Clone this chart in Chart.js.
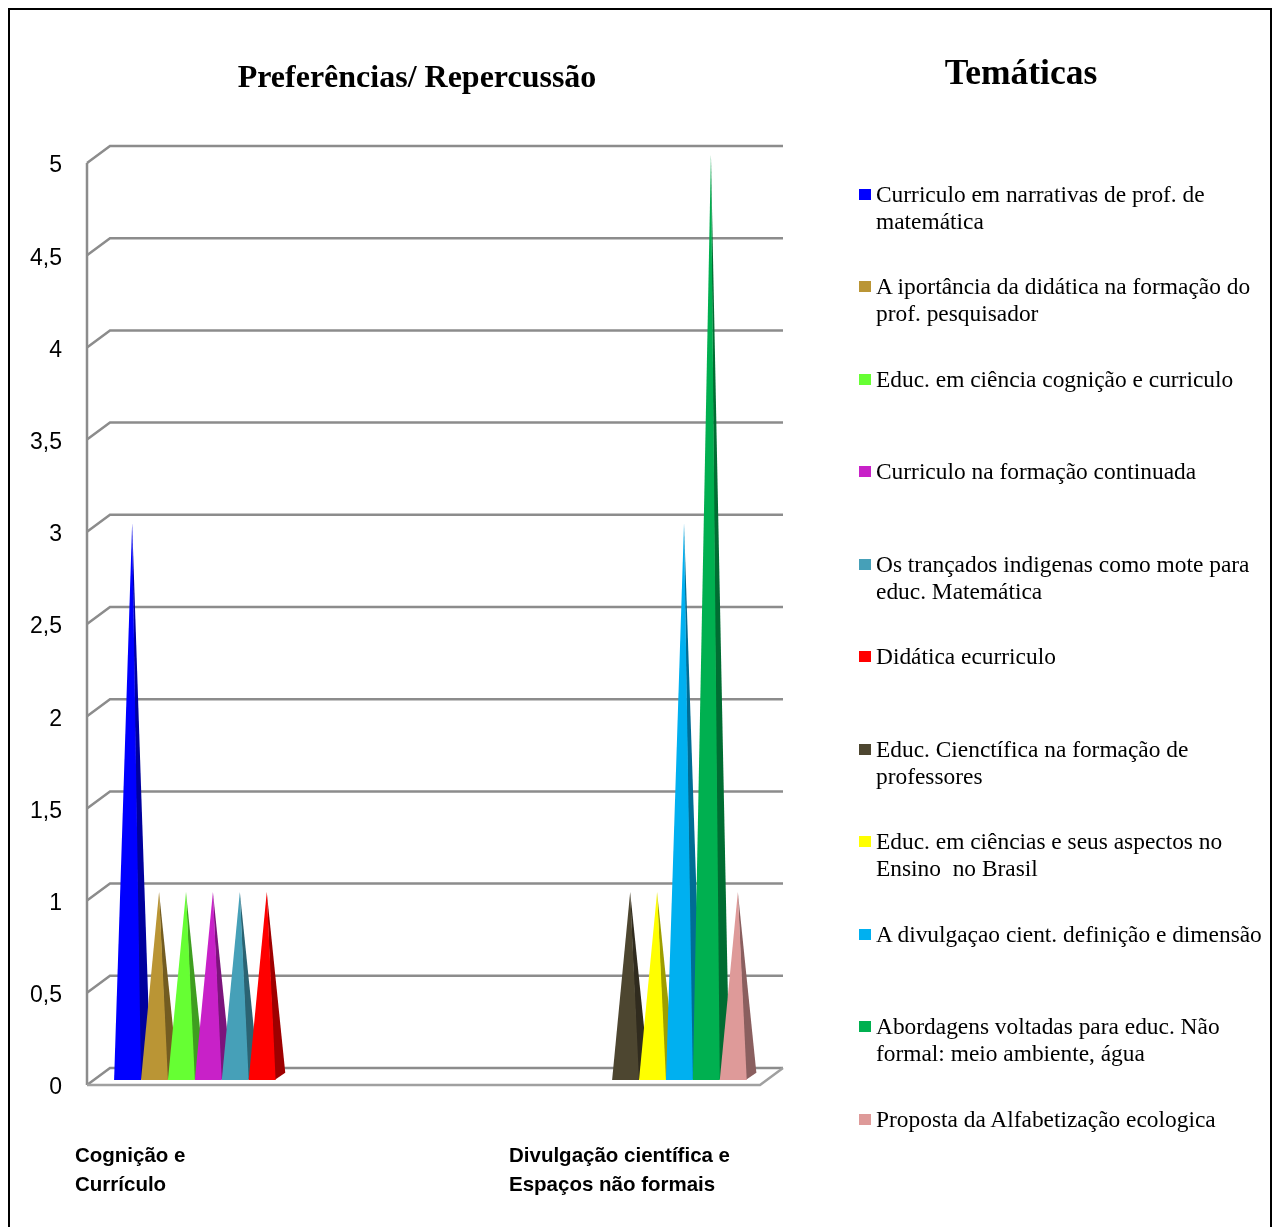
<!DOCTYPE html>
<html lang="pt">
<head>
<meta charset="utf-8">
<title>Preferências/ Repercussão</title>
<script src="https://cdn.jsdelivr.net/npm/chart.js@4.4.1/dist/chart.umd.min.js"></script>
<style>
  html, body { margin: 0; padding: 0; background: #fff; }
  body { width: 1278px; height: 1227px; position: relative; overflow: hidden; }
  #frame { position: absolute; left: 8px; top: 8px; width: 1264px; height: 1240px; border: 2px solid #000; box-sizing: border-box; }
  #chart { position: absolute; left: 0; top: 0; }
  .title { position: absolute; font-family: "Liberation Serif", "Times New Roman", serif; font-weight: bold; color: #000; white-space: nowrap; transform: translate(-50%, -50%); }
  #t1 { left: 417px; top: 76px; font-size: 32px; }
  #t2 { left: 1021px; top: 72px; font-size: 35.5px; }
  #legend { position: absolute; left: 858px; top: 0; width: 415px; }
  .item { position: absolute; left: 0; width: 415px; font-family: "Liberation Serif", "Times New Roman", serif; font-size: 23.4px; line-height: 27px; color: #000; }
  .item .box { position: absolute; left: 1px; top: 8px; width: 12px; height: 11px; }
  .item .txt { position: absolute; left: 18px; top: 0; width: 396px; white-space: pre-wrap; }
</style>
</head>
<body>
<div id="frame"></div>
<canvas id="chart" width="1278" height="1227"></canvas>
<div class="title" id="t1">Preferências/ Repercussão</div>
<div class="title" id="t2">Temáticas</div>
<div id="legend"></div>
<script>
// ---- data ----
const categories = [["Cognição e", "Currículo"], ["Divulgação científica e", "Espaços não formais"]];
const seriesNames = [
  "Curriculo em narrativas de prof. de matemática",
  "A iportância da didática na formação do prof. pesquisador",
  "Educ. em ciência cognição e curriculo",
  "Curriculo na formação continuada",
  "Os trançados indigenas como mote para educ. Matemática",
  "Didática ecurriculo",
  "Educ. Cienctífica na formação de professores",
  "Educ. em ciências e seus aspectos no Ensino  no Brasil",
  "A divulgaçao cient. definição e dimensão",
  "Abordagens voltadas para educ. Não formal: meio ambiente, água",
  "Proposta da Alfabetização ecologica"
];
const cognicaoValues   = [3, 1, 1, 1, 1, 1, 0, 0, 0, 0, 0];
const divulgacaoValues = [0, 0, 0, 0, 0, 0, 1, 1, 3, 5, 1];
const seriesColors = ["#0000FF", "#BA9535", "#66FF33", "#C821C8", "#46A0B8", "#FF0000",
                      "#4D4630", "#FFFF00", "#00B0F0", "#00B050", "#DE9A99"];
const yTicks = [0, 0.5, 1, 1.5, 2, 2.5, 3, 3.5, 4, 4.5, 5];

// ---- helpers ----
function shade(hex, f) {
  const n = parseInt(hex.slice(1), 16);
  const r = Math.round(((n >> 16) & 255) * f), g = Math.round(((n >> 8) & 255) * f), b = Math.round((n & 255) * f);
  return "rgb(" + r + "," + g + "," + b + ")";
}
const DX = 23, DY = 17; // 3D depth offset of back wall

// ---- legend (HTML) ----
const legend = document.getElementById("legend");
seriesNames.forEach((name, i) => {
  const it = document.createElement("div");
  it.className = "item";
  it.style.top = (194 + 92.5 * i - 13.5) + "px";
  const box = document.createElement("span");
  box.className = "box"; box.style.background = seriesColors[i];
  const t = document.createElement("span");
  t.className = "txt"; t.textContent = name;
  it.appendChild(box); it.appendChild(t);
  legend.appendChild(it);
});

// ---- 3D frame + pyramids plugin ----
const pyramid3D = {
  id: "pyramid3D",
  beforeDatasetsDraw(chart) {
    const ctx = chart.ctx, y = chart.scales.y;
    const L = chart.chartArea.left, R = chart.chartArea.right;
    ctx.save();
    ctx.strokeStyle = "#8c8c8c";
    ctx.lineWidth = 2.5;
    ctx.lineCap = "butt";
    yTicks.forEach(v => {
      const py = y.getPixelForValue(v);
      ctx.beginPath();
      ctx.moveTo(L, py);
      ctx.lineTo(L + DX, py - DY);
      ctx.lineTo(R + DX, py - DY);
      ctx.stroke();
    });
    const y0 = y.getPixelForValue(0), y5 = y.getPixelForValue(yTicks[yTicks.length - 1]);
    ctx.beginPath();
    ctx.moveTo(L, y5); ctx.lineTo(L, y0);
    ctx.stroke();
    ctx.strokeStyle = "#a0a0a0";
    ctx.beginPath();
    ctx.moveTo(L, y0); ctx.lineTo(R, y0); ctx.lineTo(R + DX, y0 - DY);
    ctx.stroke();
    ctx.restore();
  },
  beforeDatasetDraw() { return false; },
  afterDatasetsDraw(chart) {
    const ctx = chart.ctx, y = chart.scales.y;
    const y0 = y.getPixelForValue(0);
    ctx.save();
    chart.data.datasets.forEach((ds, di) => {
      const meta = chart.getDatasetMeta(di);
      meta.data.forEach((el, j) => {
        const v = ds.data[j];
        if (!v) return;
        const w = el.width;
        const fx = 0.3, bx = 0.72;
        const xl = el.x - w / 2 + fx * DX, xr = el.x + w / 2 + fx * DX;
        const yb = y0 - fx * DY;
        const ax = el.x + 0.5 * DX, ay = el.y - 0.5 * DY;
        const sx = el.x + w / 2 + bx * DX, sy = y0 - bx * DY;
        ctx.fillStyle = shade(ds.backgroundColor, 0.62);
        ctx.beginPath();
        ctx.moveTo(xr - 1, yb); ctx.lineTo(sx, sy); ctx.lineTo(ax, ay); ctx.closePath();
        ctx.fill();
        ctx.fillStyle = ds.backgroundColor;
        ctx.beginPath();
        ctx.moveTo(xl, yb); ctx.lineTo(xr, yb); ctx.lineTo(ax, ay); ctx.closePath();
        ctx.fill();
      });
    });
    ctx.restore();
  },
  afterDraw(chart) {
    const ctx = chart.ctx;
    const labelX = [75, 509];
    ctx.save();
    ctx.font = "bold 20.5px 'Liberation Sans', Arial, sans-serif";
    ctx.fillStyle = "#000";
    ctx.textAlign = "left";
    ctx.textBaseline = "middle";
    chart.data.labels.forEach((lines, i) => {
      lines.forEach((ln, k) => ctx.fillText(ln, labelX[i], 1156 + k * 29));
    });
    ctx.restore();
  }
};

const datasets = seriesNames.map((name, i) => ({
  label: name,
  data: [cognicaoValues[i], divulgacaoValues[i]],
  backgroundColor: seriesColors[i]
}));

new Chart(document.getElementById("chart"), {
  type: "bar",
  data: { labels: categories, datasets },
  options: {
    responsive: false,
    animation: false,
    devicePixelRatio: 1,
    layout: { padding: { top: 163, right: 518, bottom: 142, left: 0 } },
    plugins: { legend: { display: false }, tooltip: { enabled: false }, title: { display: false } },
    datasets: { bar: { categoryPercentage: 0.88, barPercentage: 1.0 } },
    scales: {
      x: {
        display: true,
        grid: { display: false },
        border: { display: false },
        ticks: { display: false },
        afterFit(s) { s.height = 0; }
      },
      y: {
        min: 0, max: 5,
        grid: { display: false, drawTicks: false },
        border: { display: false },
        ticks: {
          stepSize: 0.5,
          padding: 25,
          labelOffset: 3,
          color: "#000",
          font: { family: "'Liberation Sans', Arial, sans-serif", size: 23 },
          callback: v => String(v).replace(".", ",")
        },
        afterFit(s) { s.width = 87; }
      }
    }
  },
  plugins: [pyramid3D]
});
</script>
</body>
</html>
